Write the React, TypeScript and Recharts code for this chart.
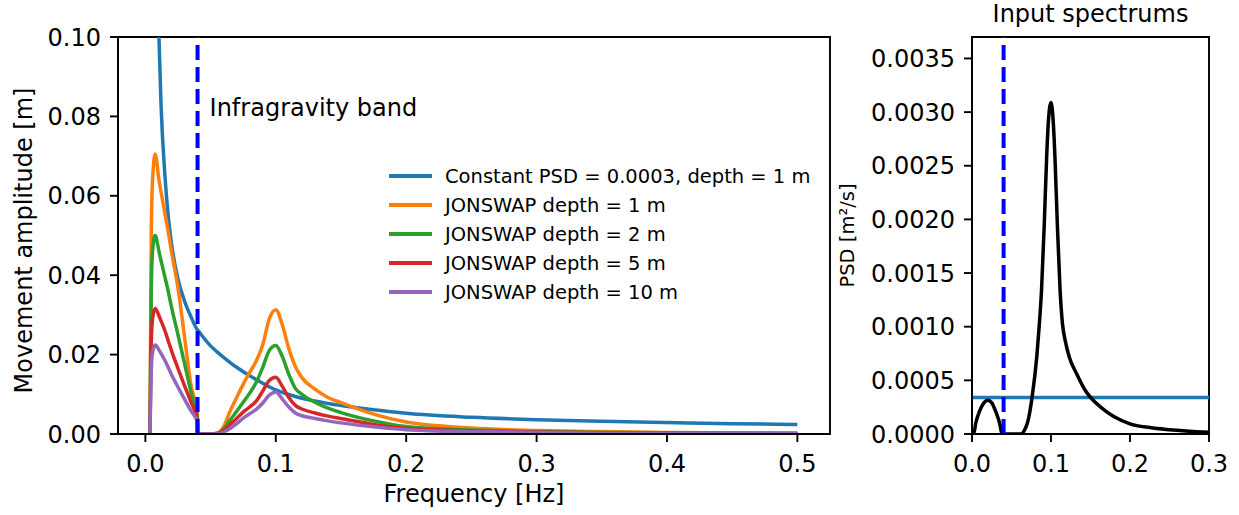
import React from "react";
import {
  LineChart,
  Line,
  XAxis,
  YAxis,
  ReferenceLine,
  ReferenceArea,
  ReferenceDot,
  Legend,
} from "recharts";

const FONT = "DejaVu Sans";

// ---- left panel: movement amplitude [m] vs frequency [Hz]
const freq = [
  0.0035, 0.0045, 0.0055, 0.0075, 0.0104, 0.012, 0.015, 0.0175, 0.02, 0.025,
  0.03, 0.035, 0.0399, 0.04, 0.05, 0.055, 0.06, 0.065, 0.07, 0.075, 0.08,
  0.085, 0.09, 0.095, 0.1, 0.105, 0.11, 0.115, 0.12, 0.13, 0.14, 0.15, 0.175,
  0.2, 0.25, 0.3, 0.35, 0.4, 0.45, 0.5,
];
const constantAmp = [
  null, null, null, null, 0.1, 0.083, 0.065, 0.055, 0.048, 0.039,
  0.0335, 0.0295, 0.02624, 0.0262, 0.0222, 0.0207, 0.0193, 0.018, 0.0168, 0.0157, 0.0147,
  0.0137, 0.0128, 0.0119, 0.0111, 0.0105, 0.00995, 0.00945, 0.009, 0.0083, 0.0077, 0.0072, 0.0061,
  0.0052, 0.0042, 0.0036, 0.0032, 0.0029, 0.0026, 0.0024,
];
const jonswap1 = [
  0, 0.05, 0.064, 0.0705, 0.064, 0.061, 0.0555, 0.051, 0.046, 0.0368,
  0.0245, 0.0122, 0.005, 0, 0, 0.0002, 0.0018, 0.0058, 0.0092, 0.0125, 0.0155,
  0.0184, 0.0225, 0.029, 0.0313, 0.0275, 0.0215, 0.017, 0.0142, 0.0113, 0.0092, 0.0079, 0.005,
  0.003, 0.0015, 0.0009, 0.0006, 0.0004, 0.0003, 0.0002,
];
const jonswap2 = [
  0, 0.036, 0.046, 0.05, 0.046, 0.0437, 0.0395, 0.036, 0.032, 0.025,
  0.0178, 0.0105, 0.004, 0, 0, 0.0001, 0.0012, 0.0035, 0.0057, 0.008, 0.0103,
  0.013, 0.0168, 0.021, 0.0223, 0.0195, 0.015, 0.0115, 0.01, 0.008, 0.0065, 0.0054, 0.0033,
  0.0019, 0.001, 0.0006, 0.0004, 0.0003, 0.0002, 0.00015,
];
const jonswap5 = [
  0, 0.023, 0.029, 0.0316, 0.0298, 0.0285, 0.026, 0.0235, 0.021, 0.0165,
  0.0122, 0.008, 0.0035, 0, 0, 0.0001, 0.0009, 0.0024, 0.0039, 0.0055, 0.0068,
  0.0083, 0.0108, 0.0135, 0.0143, 0.012, 0.0092, 0.0072, 0.0063, 0.0053, 0.0045, 0.0039, 0.0024,
  0.0014, 0.0008, 0.0005, 0.0003, 0.0002, 0.00015, 0.0001,
];
const jonswap10 = [
  0, 0.016, 0.0205, 0.0224, 0.0212, 0.0203, 0.0185, 0.0168, 0.015, 0.0118,
  0.0088, 0.0058, 0.003, 0, 0, 0, 0.0005, 0.0014, 0.0026, 0.004, 0.0051,
  0.0062, 0.0078, 0.0098, 0.0106, 0.0088, 0.0068, 0.0053, 0.0046, 0.0039, 0.0033, 0.0028, 0.0018,
  0.0011, 0.0006, 0.0004, 0.0002, 0.00015, 0.0001, 0.0001,
];
const leftTicksX = [0, 0.1, 0.2, 0.3, 0.4, 0.5];
const leftTicksY = [0, 0.02, 0.04, 0.06, 0.08, 0.1];

// ---- right panel: input spectra
const inFreq = [
  0, 0.002, 0.005, 0.01, 0.015, 0.02, 0.025, 0.03, 0.035, 0.038, 0.062,
  0.066, 0.07, 0.072, 0.076, 0.082, 0.085, 0.088, 0.0915, 0.0945, 0.0965,
  0.1, 0.103, 0.105, 0.108, 0.1115, 0.1145, 0.118, 0.123, 0.1325, 0.143,
  0.149, 0.168, 0.18, 0.2, 0.225, 0.25, 0.3,
];
const jonswapPsd = [
  0, 0, 0.00011, 0.00022, 0.00029, 0.000315, 0.00029, 0.00021, 0.0001, 0, 0,
  0.00003, 0.0001, 0.00016, 0.00034, 0.00072, 0.001, 0.00134, 0.00196, 0.00258, 0.00289,
  0.00309, 0.00289, 0.00258, 0.00196, 0.00134, 0.00103, 0.00087, 0.00072, 0.00056, 0.00041,
  0.00035, 0.00022, 0.00016, 0.000095, 0.00006, 0.00004, 0.000016,
];
const constantPsd = 0.00034;
const rightTicksX = [0, 0.1, 0.2, 0.3];
const rightTicksY = [0, 0.0005, 0.001, 0.0015, 0.002, 0.0025, 0.003, 0.0035];

const IG_CUTOFF = 0.04;

const series = [
  { key: "c", name: "Constant PSD = 0.0003, depth = 1 m", color: "#1f77b4" },
  { key: "j1", name: "JONSWAP depth = 1 m", color: "#ff7f0e" },
  { key: "j2", name: "JONSWAP depth = 2 m", color: "#2ca02c" },
  { key: "j5", name: "JONSWAP depth = 5 m", color: "#d62728" },
  { key: "j10", name: "JONSWAP depth = 10 m", color: "#9467bd" },
];

const leftData = freq.map((f, i) => ({
  f,
  c: constantAmp[i],
  j1: jonswap1[i],
  j2: jonswap2[i],
  j5: jonswap5[i],
  j10: jonswap10[i],
}));

const rightData = inFreq.map((f, i) => ({ f, c: constantPsd, j: jonswapPsd[i] }));

const tickStyle = { fill: "#000", fontSize: 24, fontFamily: FONT };
const blackLine = { stroke: "#000", strokeWidth: 1.9 };

function LegendBox() {
  return (
    <div style={{ fontFamily: FONT, fontSize: 19.5, color: "#000" }}>
      {series.map((s) => (
        <div
          key={s.key}
          style={{
            display: "flex",
            alignItems: "center",
            height: 29,
            lineHeight: "29px",
            whiteSpace: "nowrap",
          }}
        >
          <span
            style={{
              display: "inline-block",
              width: 43,
              height: 3.5,
              background: s.color,
              marginRight: 13.5,
            }}
          />
          <span>{s.name}</span>
        </div>
      ))}
    </div>
  );
}

function BandLabel(props: any) {
  const vb = props.viewBox || {};
  const x = (vb.x ?? vb.cx ?? 0) + (vb.width ?? 0) / 2;
  const y = (vb.y ?? vb.cy ?? 0) + (vb.height ?? 0) / 2;
  return (
    <text x={x - 1} y={y} fontSize={24} fontFamily={FONT} fill="#000">
      Infragravity band
    </text>
  );
}

export default function App() {
  return (
    <div
      style={{
        position: "absolute",
        left: 0,
        top: 0,
        width: 1239,
        height: 515,
        background: "#fff",
        fontFamily: FONT,
      }}
    >
      <div style={{ position: "absolute", left: 0, top: 0 }}>
        <LineChart
          width={840}
          height={515}
          data={leftData}
          margin={{ top: 37, right: 10, bottom: 0, left: 0 }}
        >
          <XAxis
            dataKey="f"
            type="number"
            domain={[-0.021, 0.525]}
            ticks={leftTicksX}
            allowDataOverflow
            tickFormatter={(v: number) => v.toFixed(1)}
            height={81}
            tickSize={8}
            tickMargin={13}
            tick={tickStyle}
            axisLine={blackLine}
            tickLine={blackLine}
            label={{
              value: "Frequency [Hz]",
              position: "insideBottom",
              offset: 13,
              fill: "#000",
              fontSize: 24,
              fontFamily: FONT,
            }}
          />
          <YAxis
            type="number"
            domain={[0, 0.1]}
            ticks={leftTicksY}
            allowDataOverflow
            width={118}
            tickFormatter={(v: number) => v.toFixed(2)}
            tickSize={8}
            tickMargin={9}
            tick={tickStyle}
            axisLine={blackLine}
            tickLine={blackLine}
            label={{
              value: "Movement amplitude [m]",
              angle: -90,
              position: "center",
              dx: -36,
              dy: 5,
              fill: "#000",
              fontSize: 24,
              fontFamily: FONT,
            }}
          />
          <ReferenceArea
            x1={-0.021}
            x2={0.525}
            y1={0}
            y2={0.1}
            fill="none"
            stroke="#000"
            strokeWidth={1.9}
            ifOverflow="visible"
          />
          {series.map((s) => (
            <Line
              key={s.key}
              dataKey={s.key}
              name={s.name}
              type="monotone"
              stroke={s.color}
              strokeWidth={3.5}
              dot={false}
              activeDot={false}
              isAnimationActive={false}
            />
          ))}
          <ReferenceLine
            x={IG_CUTOFF}
            stroke="#0000ff"
            strokeWidth={4}
            strokeDasharray="15 7"
          />
          <ReferenceDot
            x={0.05}
            y={0.08}
            r={0}
            fill="none"
            stroke="none"
            label={{ content: BandLabel }}
          />
          <Legend
            content={() => <LegendBox />}
            layout="vertical"
            align="center"
            verticalAlign="middle"
            wrapperStyle={{ left: 388.5, top: 161.5, width: "auto", height: "auto" }}
          />
        </LineChart>
      </div>

      <div style={{ position: "absolute", left: 835, top: 0 }}>
        <LineChart
          width={404}
          height={515}
          data={rightData}
          margin={{ top: 37, right: 30, bottom: 0, left: 0 }}
        >
          <XAxis
            dataKey="f"
            type="number"
            domain={[0, 0.3]}
            ticks={rightTicksX}
            allowDataOverflow
            tickFormatter={(v: number) => v.toFixed(1)}
            height={81}
            tickSize={8}
            tickMargin={13}
            tick={tickStyle}
            axisLine={blackLine}
            tickLine={blackLine}
          />
          <YAxis
            type="number"
            domain={[0, 0.0037]}
            ticks={rightTicksY}
            allowDataOverflow
            width={137}
            tickFormatter={(v: number) => v.toFixed(4)}
            tickSize={8}
            tickMargin={9}
            tick={tickStyle}
            axisLine={blackLine}
            tickLine={blackLine}
            label={{
              value: "PSD [m²/s]",
              angle: -90,
              position: "center",
              dx: -56.5,
              dy: 0,
              fill: "#000",
              fontSize: 19.5,
              fontFamily: FONT,
            }}
          />
          <ReferenceArea
            x1={0}
            x2={0.3}
            y1={0}
            y2={0.0037}
            fill="none"
            stroke="#000"
            strokeWidth={1.9}
            ifOverflow="visible"
            label={{
              value: "Input spectrums",
              position: "top",
              offset: 15,
              fill: "#000",
              fontSize: 24,
              fontFamily: FONT,
            }}
          />
          <Line
            dataKey="c"
            type="linear"
            stroke="#1f77b4"
            strokeWidth={3.5}
            dot={false}
            activeDot={false}
            isAnimationActive={false}
          />
          <Line
            dataKey="j"
            type="monotone"
            stroke="#000"
            strokeWidth={3.5}
            dot={false}
            activeDot={false}
            isAnimationActive={false}
          />
          <ReferenceLine
            x={IG_CUTOFF}
            stroke="#0000ff"
            strokeWidth={4}
            strokeDasharray="15 7"
          />
        </LineChart>
      </div>
    </div>
  );
}
